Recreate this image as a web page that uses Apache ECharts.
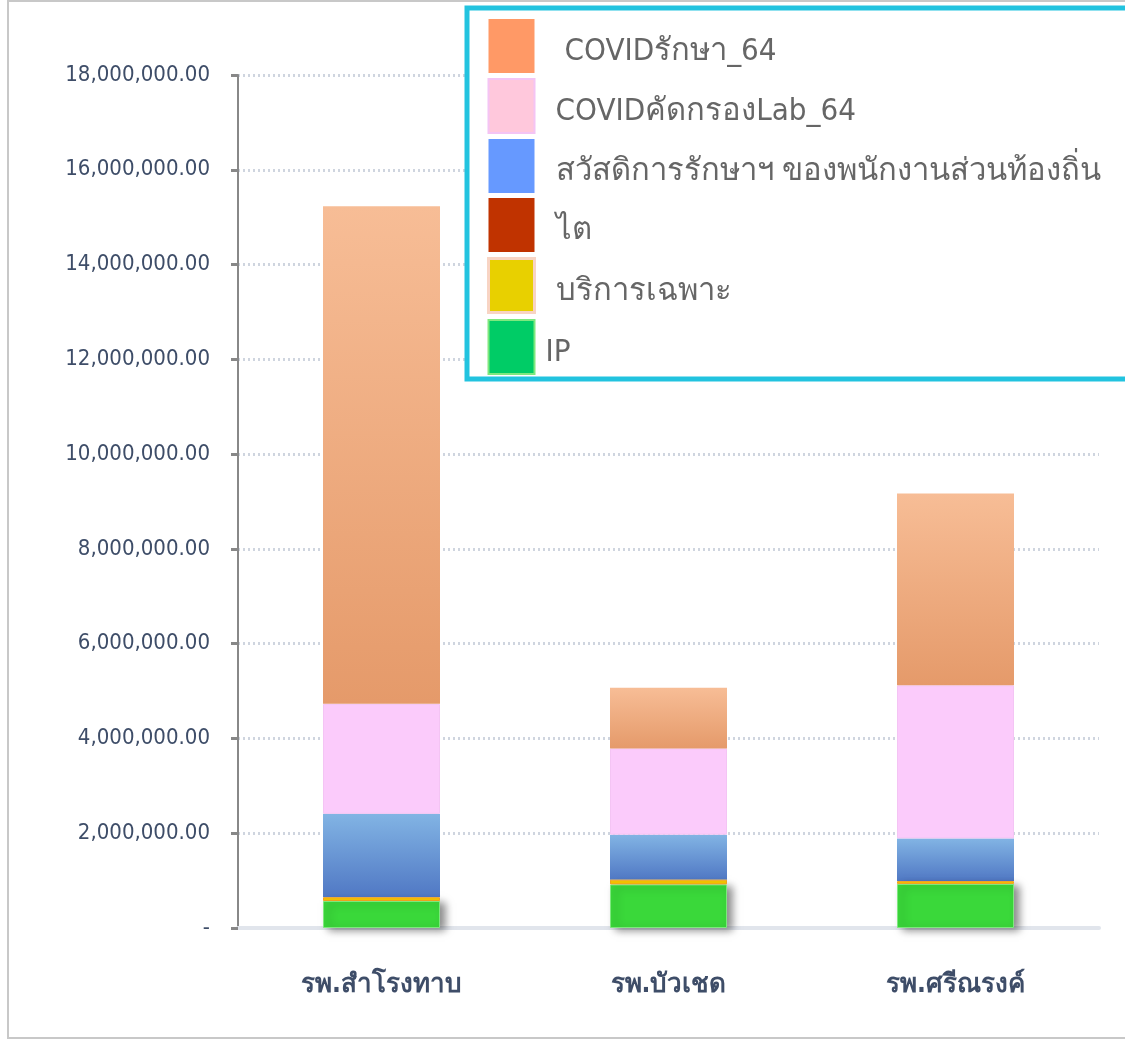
<!DOCTYPE html>
<html>
<head>
<meta charset="utf-8">
<script src="https://cdn.jsdelivr.net/npm/echarts@6/dist/echarts.min.js"></script>
<style>
  html, body { margin: 0; padding: 0; background: #fff; }
  #chart { width: 1125px; height: 1041px; }
</style>
</head>
<body>
<div id="chart"></div>
<script>
// categories (hospitals)
const categories = ['รพ.สำโรงทาบ', 'รพ.บัวเชด', 'รพ.ศรีณรงค์']

// series values, bottom of the stack first
const ipValues = [570000, 920000, 930000]
const specialValues = [80000, 100000, 60000]
const kidneyValues = [0, 0, 0]
const welfareValues = [1760000, 950000, 900000]
const labValues = [2320000, 1820000, 3230000]
const treatValues = [10500000, 1280000, 4050000]

// series names
const nameIP = 'IP'
const nameSpecial = 'บริการเฉพาะ'
const nameKidney = 'ไต'
const nameWelfare = 'สวัสดิการรักษาฯ ของพนักงานส่วนท้องถิ่น'
const nameLab = 'COVIDคัดกรองLab_64'
const nameTreat = 'COVIDรักษา_64'

// y axis
const yMax = 18000000
const yInterval = 2000000

const chart = echarts.init(document.getElementById('chart'))

const vGrad = (top, bottom) => new echarts.graphic.LinearGradient(0, 0, 0, 1, [
  { offset: 0, color: top },
  { offset: 1, color: bottom }
])

const labelColor = '#3e4d68'

/**
 * 格式化 y 轴数值
 */
const fmtValue = (v) => {
  if (v === 0) return '-'
  return v.toLocaleString('en-US', { minimumFractionDigits: 2, maximumFractionDigits: 2 })
}

const legendText = (left) => ({
  fontSize: 31,
  color: '#666',
  fontFamily: 'DejaVu Sans Condensed',
  padding: [12, 0, 0, left]
})

const option = {
  animation: false,
  grid: { left: 238, right: 26, top: 75, bottom: 113 },
  graphic: [
    {
      type: 'rect',
      shape: { x: 8, y: 1, width: 1140, height: 1037 },
      style: { fill: 'none', stroke: '#c8c8c8', lineWidth: 2 },
      z: 0
    },
    {
      type: 'rect',
      shape: { x: 467, y: 8, width: 680, height: 371 },
      style: { fill: '#fff', stroke: '#22c3df', lineWidth: 5 },
      z: 5
    }
  ],
  legend: {
    orient: 'vertical',
    left: 482,
    top: 14,
    itemWidth: 46,
    itemHeight: 54,
    itemGap: 5,
    z: 10,
    selectedMode: false,
    icon: 'rect',
    formatter: (name) => {
      if (name === nameTreat) return '{a|' + name + '}'
      if (name === nameIP) return '{c|' + name + '}'
      return '{b|' + name + '}'
    },
    textStyle: {
      fontSize: 31,
      color: '#666',
      fontFamily: 'DejaVu Sans Condensed',
      rich: {
        a: legendText(25),
        b: legendText(16),
        c: legendText(6)
      }
    },
    data: [
      { name: nameTreat, itemStyle: { color: '#ff9966' } },
      { name: nameLab, itemStyle: { color: '#ffc8dc' } },
      { name: nameWelfare, itemStyle: { color: '#6699ff' } },
      { name: nameKidney, itemStyle: { color: '#c03300' } },
      { name: nameSpecial, itemStyle: { color: '#e8d000', borderColor: '#f8d4c4', borderWidth: 3 } },
      { name: nameIP, itemStyle: { color: '#00cc66' } }
    ]
  },
  xAxis: {
    type: 'category',
    data: categories,
    axisLine: { lineStyle: { color: '#e1e5ec', width: 4 } },
    axisTick: { show: false },
    axisLabel: {
      margin: 44,
      fontSize: 26,
      fontWeight: 'bold',
      color: labelColor,
      fontFamily: 'DejaVu Sans Condensed'
    }
  },
  yAxis: {
    type: 'value',
    min: 0,
    max: yMax,
    interval: yInterval,
    axisLine: { show: true, lineStyle: { color: '#888', width: 2 } },
    axisTick: { show: true, length: 7, lineStyle: { color: '#888', width: 3 } },
    axisLabel: {
      margin: 28,
      fontSize: 22,
      color: labelColor,
      fontFamily: 'DejaVu Sans Condensed',
      formatter: fmtValue
    },
    splitLine: {
      lineStyle: { color: '#cfd5df', width: 3, type: [2, 3] }
    }
  },
  series: [
    {
      name: nameIP,
      type: 'bar',
      stack: 'total',
      barWidth: 117,
      data: ipValues,
      itemStyle: {
        color: '#3ad83a',
        borderColor: '#7ee87e',
        borderWidth: 1,
        shadowColor: 'rgba(0,0,0,0.45)',
        shadowBlur: 8,
        shadowOffsetX: 5,
        shadowOffsetY: 2
      },
      z: 3
    },
    {
      name: nameSpecial,
      type: 'bar',
      stack: 'total',
      data: specialValues,
      itemStyle: { color: '#f2c000', borderColor: '#f0a020', borderWidth: 1 },
      z: 4
    },
    {
      name: nameKidney,
      type: 'bar',
      stack: 'total',
      data: kidneyValues,
      itemStyle: { color: '#c03300' }
    },
    {
      name: nameWelfare,
      type: 'bar',
      stack: 'total',
      data: welfareValues,
      itemStyle: { color: vGrad('#82b4e4', '#5078c4') }
    },
    {
      name: nameLab,
      type: 'bar',
      stack: 'total',
      data: labValues,
      itemStyle: { color: '#fbcbfb', borderColor: '#f4c4f4', borderWidth: 1 }
    },
    {
      name: nameTreat,
      type: 'bar',
      stack: 'total',
      data: treatValues,
      itemStyle: { color: vGrad('#f7bd96', '#e59a6a') }
    }
  ]
}

chart.setOption(option)
</script>
</body>
</html>
